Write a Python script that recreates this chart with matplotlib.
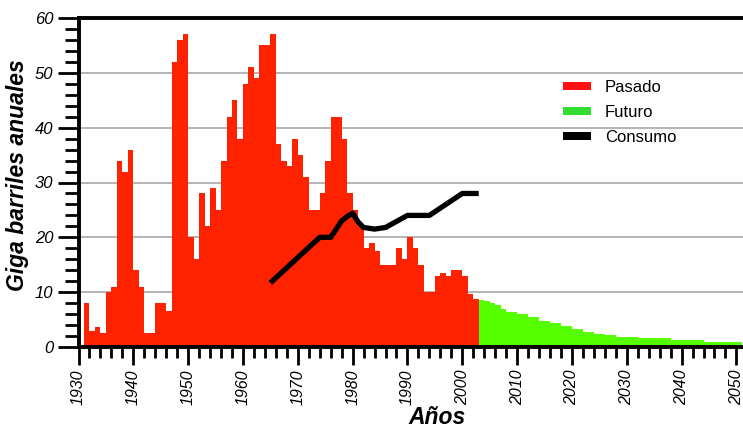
import matplotlib
matplotlib.use("Agg")
import matplotlib.pyplot as plt
from matplotlib.patches import Patch
from matplotlib.ticker import MultipleLocator

plt.rcParams['font.family'] = ['Liberation Sans', 'DejaVu Sans']

# Yearly discoveries, past (red) and projected (green), in giga-barrels
past_years = list(range(1931, 2003))
past_values = [
    8, 3, 3.7, 2.5, 10, 11, 34, 32, 36, 14,          # 1931-1940
    11, 2.5, 2.5, 8, 8, 6.5, 52, 56, 57, 20,         # 1941-1950
    16, 28, 22, 29, 25, 34, 42, 45, 38, 48,          # 1951-1960
    51, 49, 55, 55, 57, 37, 34, 33, 38, 35,          # 1961-1970
    31, 25, 25, 28, 34, 42, 42, 38, 28, 25,          # 1971-1980
    22, 18, 19, 17.5, 15, 15, 15, 18, 16, 20,        # 1981-1990
    18, 15, 10, 10, 13, 13.5, 13, 14, 14, 13,        # 1991-2000
    9.7, 8.8,                                        # 2001-2002
]

future_years = list(range(2003, 2051))
future_values = [
    8.6, 8.4, 8.1, 7.6, 7.0, 6.4, 6.4, 6.1, 6.1, 5.4,   # 2003-2012
    5.4, 4.8, 4.8, 4.4, 4.4, 3.9, 3.9, 3.3, 3.3, 2.8,   # 2013-2022
    2.8, 2.4, 2.4, 2.1, 2.1, 1.8, 1.8, 1.8, 1.8, 1.6,   # 2023-2032
    1.6, 1.6, 1.6, 1.6, 1.6, 1.3, 1.3, 1.3, 1.3, 1.3,   # 2033-2042
    1.3, 0.9, 0.9, 0.9, 0.9, 0.9, 0.9, 0.9,             # 2043-2050
]

# Annual consumption
consumo_years = [1965, 1974, 1976, 1978, 1979, 1980, 1981, 1982, 1984,
                 1986, 1990, 1994, 2000, 2003]
consumo_values = [11.7, 20, 20, 23, 23.8, 24.4, 22.8, 21.8, 21.5,
                  21.8, 24, 24, 28, 28]

legend_labels = ["Pasado", "Futuro", "Consumo"]

W, H = 743, 432
fig = plt.figure(figsize=(W / 100, H / 100), dpi=100)
ax = fig.add_axes([78.5 / W, 1 - 347 / H, (W - 78.5) / W, (347 - 18) / H])

ax.bar(past_years, past_values, width=1.0, align='edge',
       color='#ff2200', linewidth=0, zorder=2)
ax.bar(future_years, future_values, width=1.0, align='edge',
       color='#55ff00', linewidth=0, zorder=2)
ax.plot(consumo_years, consumo_values, color='black', linewidth=3.8,
        solid_capstyle='butt', zorder=3)

ax.set_xlim(1930, 2051.2)
ax.set_ylim(0, 60)

ax.xaxis.set_major_locator(MultipleLocator(10))
ax.xaxis.set_minor_locator(MultipleLocator(2))
ax.yaxis.set_major_locator(MultipleLocator(10))
ax.yaxis.set_minor_locator(MultipleLocator(2))

ax.set_axisbelow(True)
ax.yaxis.grid(True, which='major', color='#a8a8a8', linewidth=1.2)

for side in ('left', 'top', 'bottom'):
    ax.spines[side].set_linewidth(2.8)
ax.spines['right'].set_visible(False)

ax.tick_params(axis='y', which='major', direction='out', length=15, width=2, pad=3)
ax.tick_params(axis='y', which='minor', direction='out', length=10, width=2)
ax.tick_params(axis='x', which='major', direction='out', length=13, width=2, pad=3)
ax.tick_params(axis='x', which='minor', direction='out', length=8, width=2)

for lbl in ax.get_yticklabels():
    lbl.set_fontsize(12)
    lbl.set_fontstyle('italic')
for lbl in ax.get_xticklabels():
    lbl.set_fontsize(11.5)
    lbl.set_fontstyle('italic')
    lbl.set_rotation(90)

fig.text(6 / W, 1 - 175 / H, "Giga barriles anuales", rotation=90,
         fontsize=16.5, fontweight='bold', fontstyle='italic',
         ha='left', va='center')
fig.text(437 / W, 1 - 418 / H, "Años", fontsize=16.5, fontweight='bold',
         fontstyle='italic', ha='center', va='center')

handles = [Patch(facecolor='#ff1111', edgecolor='none'),
           Patch(facecolor='#33dd33', edgecolor='none'),
           Patch(facecolor='black', edgecolor='none')]
fig.legend(handles, legend_labels, loc='upper left',
           bbox_to_anchor=(563 / W, 1 - 80 / H), bbox_transform=fig.transFigure,
           frameon=False, fontsize=12, borderpad=0, borderaxespad=0,
           handlelength=1.68, handleheight=0.42, handletextpad=0.84,
           labelspacing=0.6)

fig.savefig("out.png", dpi=100)
